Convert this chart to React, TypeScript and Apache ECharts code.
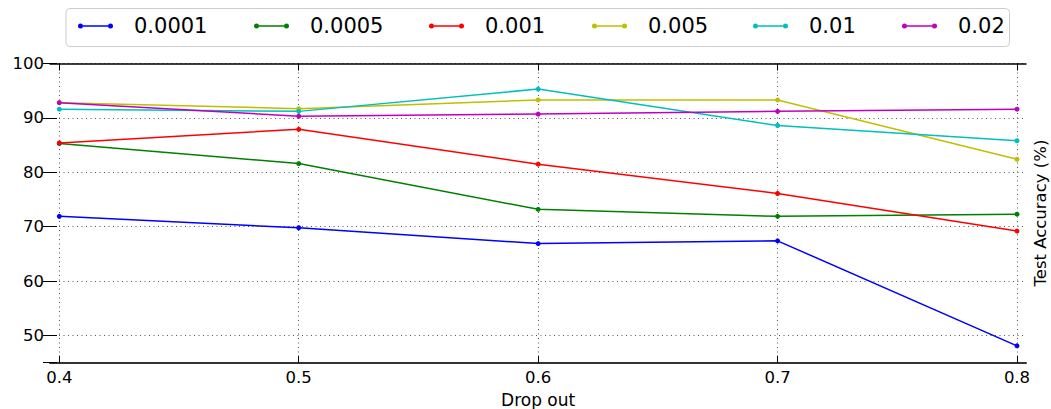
import React, { useEffect, useRef } from "react";
import * as echarts from "echarts";

const dropout = [0.4, 0.5, 0.6, 0.7, 0.8];
const seriesNames = ["0.0001", "0.0005", "0.001", "0.005", "0.01", "0.02"];
const acc0001 = [71.9, 69.8, 66.9, 67.4, 48.1];
const acc0005 = [85.3, 81.6, 73.2, 71.9, 72.3];
const acc001 = [85.4, 87.9, 81.5, 76.1, 69.2];
const acc005 = [92.8, 91.7, 93.3, 93.3, 82.4];
const acc01 = [91.6, 91.2, 95.3, 88.6, 85.8];
const acc02 = [92.8, 90.3, 90.7, 91.2, 91.6];
const allValues = [acc0001, acc0005, acc001, acc005, acc01, acc02];
const colors = ["#0000ff", "#008000", "#ff0000", "#bfbf00", "#00bfbf", "#bf00bf"];
const legendLefts = [78, 254, 429, 592, 753, 902];

const FONT = "DejaVu Sans";
const ICON =
  "path://M0,2.5a2.5,2.5 0 1,1 5,0a2.5,2.5 0 1,1 -5,0zM30,2.5a2.5,2.5 0 1,1 5,0a2.5,2.5 0 1,1 -5,0zM5,1.75h25v1.5h-25z";

export default function App() {
  const ref = useRef<HTMLDivElement>(null);
  useEffect(() => {
    if (!ref.current) return;
    const chart = echarts.init(ref.current, undefined, { renderer: "svg" });
    const grid0 = {
      left: 50, right: 25, top: 63.5, bottom: 46.3,
      containLabel: false, outerBoundsMode: "none",
    };
    const grid1 = {
      left: 59.3, right: 34, top: 63.5, bottom: 46.3,
      containLabel: false, outerBoundsMode: "none",
    };
    const dotted = { color: "#555", width: 1, type: [1, 3.5] as any };
    chart.setOption({
      animation: false,
      textStyle: { fontFamily: FONT },
      grid: [grid0, grid1],
      graphic: [
        {
          type: "rect",
          z: 0,
          shape: { x: 66, y: 8.5, width: 943.5, height: 38, r: 4 },
          style: { fill: "#fff", stroke: "#cccccc", lineWidth: 1 },
        },
      ],
      legend: seriesNames.map((n, i) => ({
        data: [n],
        left: legendLefts[i],
        top: 15.5,
        padding: 0,
        z: 5,
        icon: ICON,
        itemWidth: 35,
        itemHeight: 5,
        itemStyle: { borderWidth: 0 },
        textStyle: {
          fontFamily: FONT,
          fontSize: 21,
          color: "#000",
          padding: [0, 0, 0, 16],
        },
      })),
      xAxis: [
        {
          gridIndex: 0,
          type: "value",
          min: 0,
          max: 1,
          position: "bottom",
          axisLine: { show: true, lineStyle: { color: "#333", width: 2 } },
          axisTick: { show: false },
          axisLabel: { show: false },
          splitLine: { show: false },
        },
        {
          gridIndex: 0,
          type: "value",
          min: 0,
          max: 1,
          position: "top",
          axisLine: { show: true, lineStyle: { color: "#000", width: 1.5 } },
          axisTick: { show: false },
          axisLabel: { show: false },
          splitLine: { show: false },
        },
        {
          gridIndex: 1,
          type: "value",
          min: 0.4,
          max: 0.8,
          interval: 0.1,
          position: "bottom",
          axisLine: { show: false },
          axisTick: { show: true, inside: true, length: 7, lineStyle: { color: "#000" } },
          axisLabel: {
            color: "#000",
            fontSize: 16.5,
            fontFamily: FONT,
            margin: 6.5,
            formatter: (v: number) => v.toFixed(1),
          },
          splitLine: { show: true, lineStyle: dotted },
          name: "Drop out",
          nameLocation: "middle",
          nameGap: 25,
          nameTextStyle: { color: "#000", fontSize: 17, fontFamily: FONT },
        },
        {
          gridIndex: 1,
          type: "value",
          min: 0.4,
          max: 0.8,
          interval: 0.1,
          position: "top",
          axisLine: { show: false },
          axisTick: { show: true, inside: true, length: 7, lineStyle: { color: "#000" } },
          axisLabel: { show: false },
          splitLine: { show: false },
        },
      ],
      yAxis: [
        {
          gridIndex: 0,
          type: "value",
          min: 45,
          max: 100,
          splitNumber: 5,
          position: "left",
          axisLine: { show: false },
          axisTick: { show: true, inside: true, length: 7, lineStyle: { color: "#000" } },
          axisLabel: {
            color: "#000",
            fontSize: 16.5,
            fontFamily: FONT,
            margin: 6,
            formatter: (v: number) => (Math.round(v) % 10 === 0 ? String(Math.round(v)) : ""),
          },
          splitLine: { show: true, lineStyle: dotted },
        },
        {
          gridIndex: 0,
          type: "value",
          min: 45,
          max: 100,
          splitNumber: 5,
          position: "right",
          axisLine: { show: false },
          axisTick: { show: true, inside: true, length: 7, lineStyle: { color: "#000" } },
          axisLabel: { show: false },
          splitLine: { show: false },
          name: "Test Accuracy (%)",
          nameLocation: "middle",
          nameRotate: 90,
          nameGap: 6,
          nameTextStyle: { color: "#000", fontSize: 16.5, fontFamily: FONT },
        },
        {
          gridIndex: 1,
          type: "value",
          min: 45,
          max: 100,
          show: false,
        },
      ],
      series: seriesNames.map((n, i) => ({
        name: n,
        type: "line",
        xAxisIndex: 2,
        yAxisIndex: 2,
        data: dropout.map((x, j) => [x, allValues[i][j]]),
        symbol: "circle",
        symbolSize: 5,
        showSymbol: true,
        color: colors[i],
        lineStyle: { color: colors[i], width: 1.5 },
        itemStyle: { color: colors[i], borderWidth: 0 },
      })),
    });
    return () => chart.dispose();
  }, []);
  return (
    <div
      ref={ref}
      style={{ position: "absolute", left: 0, top: 0, width: 1051, height: 409, background: "#fff" }}
    />
  );
}
